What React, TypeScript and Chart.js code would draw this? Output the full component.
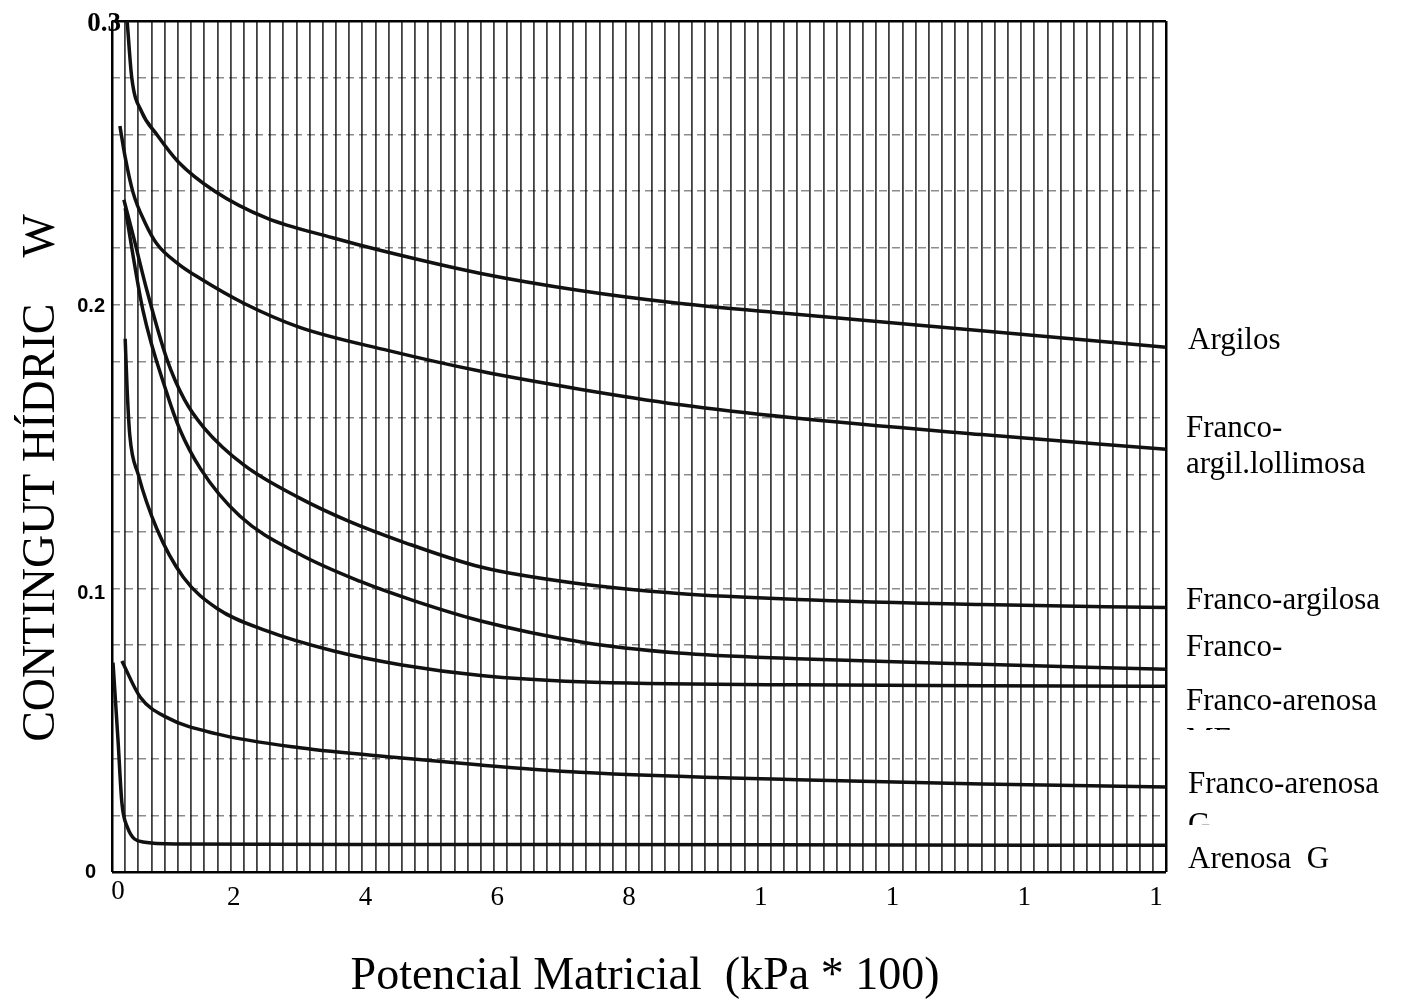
import React, { useEffect, useRef } from 'react';
import { Chart, registerables } from 'chart.js';

Chart.register(...registerables);

// ---- Data ----
const argilosX = [0.23, 0.3, 0.45, 0.68, 1.0, 1.56, 2.35, 3.35, 4.1, 5.6, 7.1, 8.6, 10.3, 13.2, 16];
const argilosY = [0.3, 0.28, 0.268, 0.26, 0.2505, 0.24, 0.2305, 0.2236, 0.219, 0.211, 0.205, 0.2005, 0.1968, 0.1908, 0.185];

const francoArgilLimX = [0.12, 0.2, 0.32, 0.5, 0.68, 1.0, 1.34, 2.0, 2.85, 4.2, 5.6, 7.1, 8.6, 10.3, 13.2, 16];
const francoArgilLimY = [0.263, 0.252, 0.2395, 0.229, 0.2215, 0.2145, 0.2092, 0.2005, 0.192, 0.1838, 0.1765, 0.1702, 0.1648, 0.1602, 0.1542, 0.149];

const francoArgilosaX = [0.18, 0.32, 0.53, 0.83, 1.1, 1.4, 2.0, 2.85, 3.6, 4.4, 5.6, 7.1, 8.6, 10.4, 13.2, 16];
const francoArgilosaY = [0.237, 0.2245, 0.205, 0.181, 0.1665, 0.1565, 0.1435, 0.1318, 0.1236, 0.1165, 0.1075, 0.1016, 0.0982, 0.0961, 0.0943, 0.0932];

const francoX = [0.2, 0.47, 0.83, 1.03, 1.34, 1.94, 2.85, 3.76, 4.6, 5.6, 7.1, 8.6, 10.4, 13.2, 16];
const francoY = [0.234, 0.198, 0.169, 0.156, 0.1423, 0.1255, 0.112, 0.1025, 0.0955, 0.0885, 0.0812, 0.0772, 0.0752, 0.0732, 0.0715];

const francoArenosaMEX = [0.2, 0.23, 0.27, 0.4, 0.68, 1.08, 1.59, 2.35, 3.35, 4.4, 5.6, 7.1, 10.4, 13.2, 16];
const francoArenosaMEY = [0.188, 0.17, 0.154, 0.14, 0.121, 0.104, 0.093, 0.085, 0.078, 0.073, 0.0693, 0.0671, 0.066, 0.0657, 0.0655];

const francoArenosaGX = [0.15, 0.43, 0.83, 1.59, 2.85, 4.4, 5.6, 7.1, 10.4, 13.2, 16];
const francoArenosaGY = [0.0744, 0.0616, 0.0545, 0.0487, 0.0438, 0.0402, 0.0377, 0.0352, 0.0325, 0.031, 0.030];

const arenosaGX = [0.015, 0.09, 0.15, 0.23, 0.47, 1.0, 4.4, 10, 16];
const arenosaGY = [0.0738, 0.047, 0.0244, 0.016, 0.0106, 0.0099, 0.0097, 0.0096, 0.0094];

const seriesNames = [
  'Argilos',
  'Franco-argil.lollimosa',
  'Franco-argilosa',
  'Franco-',
  'Franco-arenosa ME',
  'Franco-arenosa G',
  'Arenosa G',
];

const xTickValues = [0, 2, 4, 6, 8, 10, 12, 14, 16];
const xTickLabels = ['0', '2', '4', '6', '8', '1', '1', '1', '1'];
const yTickValues = [0, 0.1, 0.2, 0.3];
const yTickLabels = ['0', '0.1', '0.2', '0.3'];

const rightLabels = [
  'Argilos',
  'Franco-',
  'argil.lollimosa',
  'Franco-argilosa',
  'Franco-',
  'Franco-arenosa',
  'ME',
  'Franco-arenosa',
  'G',
  'Arenosa  G',
];

const xTitle = 'Potencial Matricial  (kPa * 100)';
const yTitle = 'CONTINGUT HÍDRIC    W';

// ---- Helpers ----
const SERIF = "'Liberation Serif', 'Times New Roman', serif";
const SANS = "'Liberation Sans', Arial, sans-serif";

function toPoints(xs: number[], ys: number[]) {
  return xs.map((x, i) => ({ x, y: ys[i] }));
}

const textPlugin = {
  id: 'scanTexts',
  afterDraw(chart: any) {
    const { ctx, scales } = chart;
    const xs = scales.x;
    const ys = scales.y;
    ctx.save();
    ctx.fillStyle = '#000';

    // x tick labels
    ctx.font = `27px ${SERIF}`;
    ctx.textAlign = 'center';
    ctx.textBaseline = 'alphabetic';
    xTickValues.forEach((v, i) => {
      const px = xs.getPixelForValue(v) + (i === 0 ? 6 : -10);
      ctx.fillText(xTickLabels[i], px, i === 0 ? 899 : 905);
    });

    // y tick labels
    ctx.textBaseline = 'middle';
    ctx.textAlign = 'right';
    yTickValues.forEach((v, i) => {
      const py = ys.getPixelForValue(v);
      if (i === 3) {
        ctx.font = `bold 27px ${SERIF}`;
        ctx.fillText(yTickLabels[i], 121, py + 3);
      } else if (i === 0) {
        ctx.font = `bold 20px ${SANS}`;
        ctx.fillText(yTickLabels[i], 96, py);
      } else {
        ctx.font = `bold 20px ${SANS}`;
        ctx.fillText(yTickLabels[i], 105, py + (i === 1 ? 5 : 2));
      }
    });

    // right-hand curve labels
    const baselines = [349, 437, 473, 609, 656, 710, 749, 793, 834, 868];
    const clips: Record<number, number> = { 6: 730, 8: 825 };
    ctx.font = `31px ${SERIF}`;
    ctx.textAlign = 'left';
    ctx.textBaseline = 'alphabetic';
    rightLabels.forEach((t, i) => {
      const x = i === 0 || i === 9 || i === 7 || i === 8 ? 1188 : 1186;
      if (clips[i] !== undefined) {
        ctx.save();
        ctx.beginPath();
        ctx.rect(x - 5, baselines[i] - 40, 300, clips[i] - (baselines[i] - 40));
        ctx.clip();
        ctx.fillText(t, x, baselines[i]);
        ctx.restore();
      } else {
        ctx.fillText(t, x, baselines[i]);
      }
    });

    // axis titles
    ctx.font = `46px ${SERIF}`;
    ctx.textAlign = 'center';
    ctx.textBaseline = 'alphabetic';
    ctx.fillText(xTitle, 645, 989);

    ctx.save();
    ctx.translate(54, 478);
    ctx.rotate(-Math.PI / 2);
    ctx.fillText(yTitle, 0, 0);
    ctx.restore();

    ctx.restore();
  },
};

function zeroPad(s: any) {
  s.paddingLeft = 0;
  s.paddingRight = 0;
  s.paddingTop = 0;
  s.paddingBottom = 0;
}

export default function App() {
  const ref = useRef<HTMLCanvasElement>(null);

  useEffect(() => {
    const canvas = ref.current;
    if (!canvas) return;

    const series = [
      [argilosX, argilosY],
      [francoArgilLimX, francoArgilLimY],
      [francoArgilosaX, francoArgilosaY],
      [francoX, francoY],
      [francoArenosaMEX, francoArenosaMEY],
      [francoArenosaGX, francoArenosaGY],
      [arenosaGX, arenosaGY],
    ];

    const chart = new Chart(canvas, {
      type: 'line',
      data: {
        datasets: series.map(([xs, ys], i) => ({
          label: seriesNames[i],
          data: toPoints(xs, ys),
          borderColor: '#111',
          borderWidth: 3.5,
          pointRadius: 0,
          fill: false,
          cubicInterpolationMode: 'monotone' as const,
        })),
      },
      options: {
        responsive: false,
        animation: false,
        devicePixelRatio: 1,
        layout: { padding: { top: 21, right: 235, left: 0, bottom: 0 } },
        plugins: {
          legend: { display: false },
          tooltip: { enabled: false },
          title: { display: false },
        },
        scales: {
          x: {
            type: 'linear',
            min: 0,
            max: 16,
            afterBuildTicks: (axis: any) => {
              axis.ticks = Array.from({ length: 81 }, (_, i) => ({ value: +(i * 0.2).toFixed(1) }));
            },
            ticks: { display: false },
            grid: {
              drawTicks: false,
              color: (c: any) => (c.index === 0 || c.index === 80 ? '#000' : 'rgba(0,0,0,0.75)'),
              lineWidth: (c: any) => (c.index === 0 || c.index === 80 ? 2.5 : 1.8),
            },
            border: { display: false },
            afterFit: (s: any) => {
              s.height = 132;
              zeroPad(s);
            },
          },
          y: {
            type: 'linear',
            min: 0,
            max: 0.3,
            afterBuildTicks: (axis: any) => {
              axis.ticks = Array.from({ length: 16 }, (_, i) => ({ value: +(i * 0.02).toFixed(2) }));
            },
            ticks: { display: false },
            grid: {
              drawTicks: false,
              color: (c: any) => (c.index === 0 || c.index === 15 ? '#000' : 'rgba(0,0,0,0.45)'),
              lineWidth: (c: any) => (c.index === 0 || c.index === 15 ? 2.5 : 1.4),
            },
            border: {
              display: false,
              dash: (c: any) => (c.index === 0 || c.index === 15 ? [] : [8, 5]),
            },
            afterFit: (s: any) => {
              s.width = 112;
              zeroPad(s);
            },
          },
        },
      } as any,
      plugins: [textPlugin],
    });

    return () => chart.destroy();
  }, []);

  return (
    <div style={{ position: 'absolute', left: 0, top: 0, width: 1401, height: 1004, background: '#fff' }}>
      <canvas ref={ref} width={1401} height={1004} style={{ display: 'block', width: 1401, height: 1004 }} />
    </div>
  );
}
